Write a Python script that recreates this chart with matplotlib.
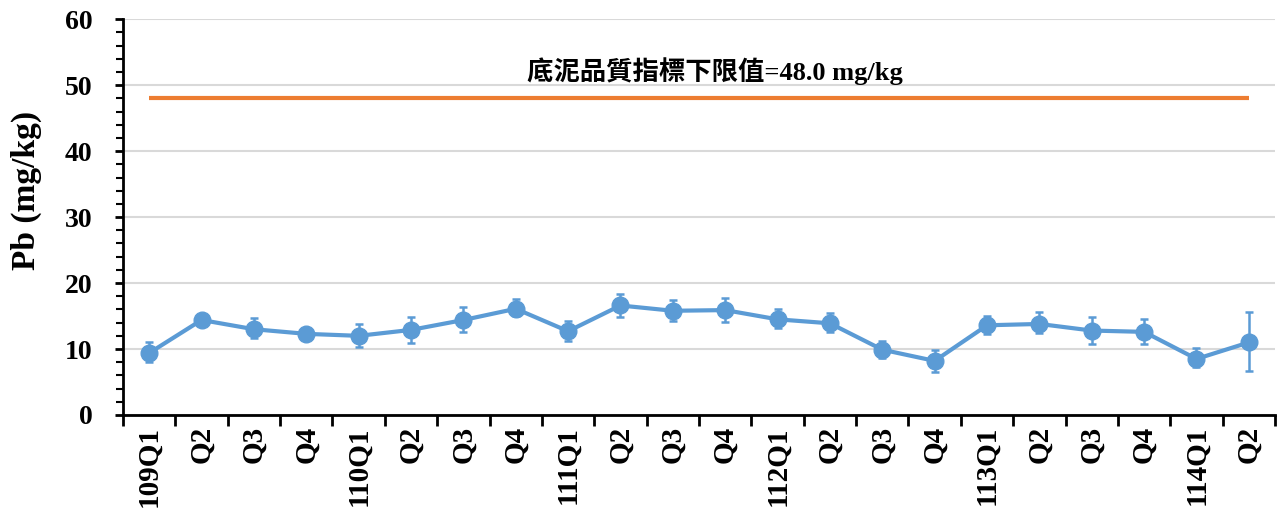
import matplotlib
matplotlib.use('Agg')
from matplotlib import pyplot as plt
from matplotlib.ticker import MultipleLocator, FixedLocator
import numpy as np

# data
categories = ['109Q1', 'Q2', 'Q3', 'Q4', '110Q1', 'Q2', 'Q3', 'Q4',
              '111Q1', 'Q2', 'Q3', 'Q4', '112Q1', 'Q2', 'Q3', 'Q4',
              '113Q1', 'Q2', 'Q3', 'Q4', '114Q1', 'Q2']
pb_mean = [9.4, 14.4, 13.0, 12.3, 12.0, 12.9, 14.4, 16.1,
           12.7, 16.6, 15.8, 15.9, 14.5, 13.9, 9.9, 8.2,
           13.6, 13.8, 12.8, 12.6, 8.5, 11.0]
err_low = [1.4, 0.0, 1.3, 0.0, 1.7, 2.0, 1.8, 1.1,
           1.5, 1.7, 1.5, 1.8, 1.3, 1.3, 1.2, 1.7,
           1.3, 1.3, 2.0, 1.8, 1.3, 4.3]
err_high = [1.6, 0.0, 1.7, 0.0, 1.8, 2.0, 1.9, 1.5,
            1.5, 1.8, 1.7, 1.9, 1.6, 1.5, 1.3, 1.6,
            1.4, 1.8, 2.1, 1.9, 1.7, 4.6]
limit_value = 48.0
limit_text = '底泥品質指標下限值=48.0 mg/kg'

blue = '#5B9BD5'
orange = '#ED7D31'
font_list = ['Liberation Serif', 'Noto Sans CJK TC']

plt.rcParams['font.family'] = font_list
plt.rcParams['font.weight'] = 'bold'

fig = plt.figure(figsize=(12.83, 5.19), dpi=100)
ax = fig.add_axes([0.0959, 0.2004, 0.8979, 0.7626])

x = np.arange(len(categories))

# grid
ax.set_axisbelow(True)
ax.yaxis.grid(True, which='major', color='#D9D9D9', linewidth=1.5)

# limit line
ax.plot([x[0], x[-1]], [limit_value, limit_value], color=orange, linewidth=3, solid_capstyle='butt')
ax.text((x[0] + x[-1]) / 2 + 0.3, 52.2, limit_text, ha='center', va='center',
        fontsize=19, fontweight='bold', family=font_list)

# main series with error bars
ax.errorbar(x, pb_mean, yerr=[err_low, err_high], color=blue, linewidth=3,
            marker='o', markersize=12, elinewidth=1.8, capsize=3, capthick=1.8)

ax.set_xlim(-0.5, len(categories) - 0.5)
ax.set_ylim(0, 60)
ax.yaxis.set_major_locator(MultipleLocator(10))
ax.yaxis.set_minor_locator(MultipleLocator(2))

ax.set_xticks(x)
ax.set_xticklabels(categories, rotation=90, fontsize=21, fontweight='bold')
ax.xaxis.set_minor_locator(FixedLocator(np.arange(-0.5, len(categories), 1.0)))
ax.tick_params(axis='x', which='major', length=0, pad=8)
ax.tick_params(axis='x', which='minor', length=8, width=2, direction='out')
ax.tick_params(axis='y', which='major', length=6, width=2, labelsize=20, pad=16)
ax.tick_params(axis='y', which='minor', length=5, width=1.5)
for lab in ax.get_yticklabels():
    lab.set_fontweight('bold')

ax.spines['top'].set_visible(False)
ax.spines['right'].set_visible(False)
ax.spines['left'].set_linewidth(2)
ax.spines['bottom'].set_linewidth(2)

ax.set_ylabel('Pb (mg/kg)', fontsize=24, fontweight='bold', va='center')
ax.yaxis.set_label_coords(-0.084, 0.568)

fig.savefig('out.png', dpi=100)
